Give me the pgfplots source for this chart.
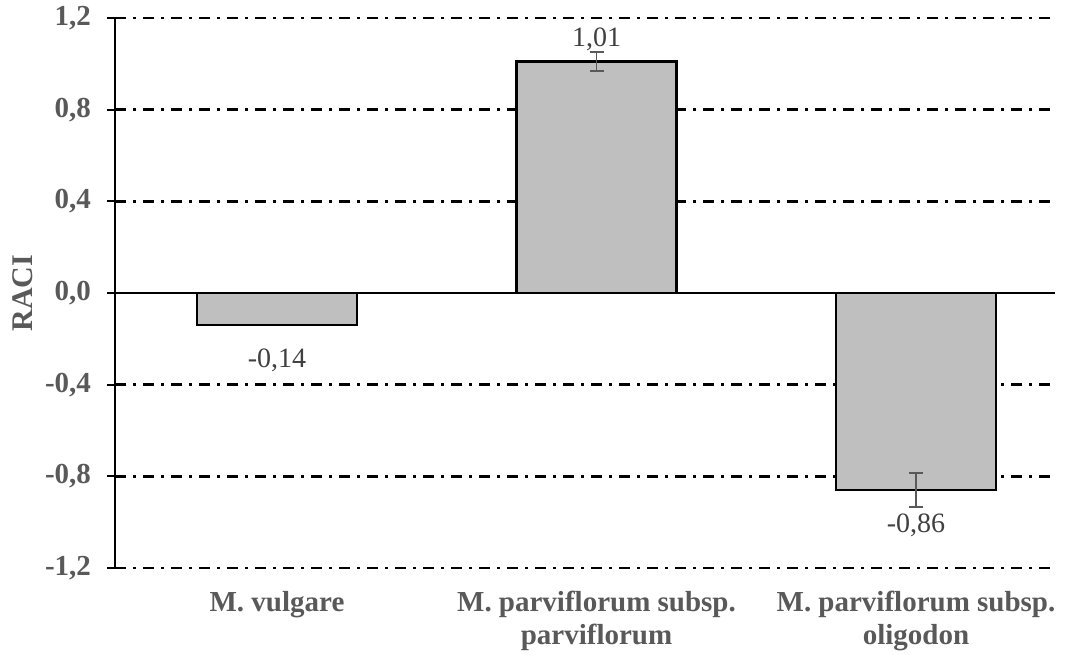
\documentclass[border=0pt]{standalone}
\usepackage{pgfplots}
\pgfplotsset{compat=1.18}
\usepackage{fontspec}
\setmainfont{Liberation Serif}
\definecolor{barfill}{HTML}{BFBFBF}
\definecolor{tickgray}{HTML}{595959}
\definecolor{labgray}{HTML}{404040}
\begin{document}
\begin{tikzpicture}
\path[use as bounding box] (-115pt,-87pt) rectangle (954pt,568pt);
\begin{axis}[
  at={(0,0)}, anchor=south west,
  scale only axis, width=940pt, height=550pt,
  xmin=-0.507, xmax=2.435, ymin=-1.2, ymax=1.2,
  ytick={-1.2,-0.8,-0.4,0,0.4,0.8,1.2},
  xtick={0,1,2},
  xticklabels={M. vulgare, {M. parviflorum subsp.\\parviflorum}, {M. parviflorum subsp.\\oligodon}},
  axis x line*=bottom, axis y line*=left,
  x axis line style={draw=none},
  y axis line style={line width=2.5pt, black, -},
  ymajorgrids,
  grid style={black, line width=2.4pt, dash pattern=on 11pt off 7pt on 3pt off 7pt},
  extra y ticks={0}, extra y tick labels={},
  extra y tick style={grid style={solid, black, line width=2pt}, major tick length=0pt},
  ytick pos=left, tick align=center,
  major tick length=15pt,
  ytick style={black, line width=2pt},
  xtick style={draw=none},
  /pgf/number format/assume math mode=true,
  /pgf/number format/use comma,
  /pgf/number format/fixed,
  /pgf/number format/fixed zerofill,
  /pgf/number format/precision=1,
  yticklabel style={font=\fontsize{29}{32}\selectfont\bfseries, text=tickgray, anchor=east, xshift=-13pt},
  xticklabel style={font=\fontsize{29}{33.5}\selectfont\bfseries, text=tickgray, align=center, anchor=north, yshift=-12pt},
  ylabel={RACI},
  ylabel style={font=\fontsize{30}{32}\selectfont\bfseries, text=tickgray, at={(axis description cs:-0.0979,0.5)}, anchor=center},
  clip=false,
]
\addplot[ybar, bar width=0.5, bar shift=0pt, fill=barfill, draw=black, line width=2.5pt,
  nodes near coords,
  nodes near coords style={font=\fontsize{28}{32}\selectfont, text=labgray,
    /pgf/number format/precision=2},
  visualization depends on={rawy \as \rawy},
  every node near coord/.append style={yshift={\rawy<0 ? -19 : 6}},
] coordinates {(0,-0.14) (1,1.01) (2,-0.86)};
\addplot[draw=none, mark=none, forget plot,
  error bars/.cd, y dir=both, y explicit,
  error bar style={tickgray, line width=1.8pt},
  error mark options={rotate=90, mark size=7pt, tickgray, line width=1.8pt},
] coordinates {(1,1.01) +- (0,0.04) (2,-0.86) +- (0,0.075)};
\end{axis}
\end{tikzpicture}
\end{document}
